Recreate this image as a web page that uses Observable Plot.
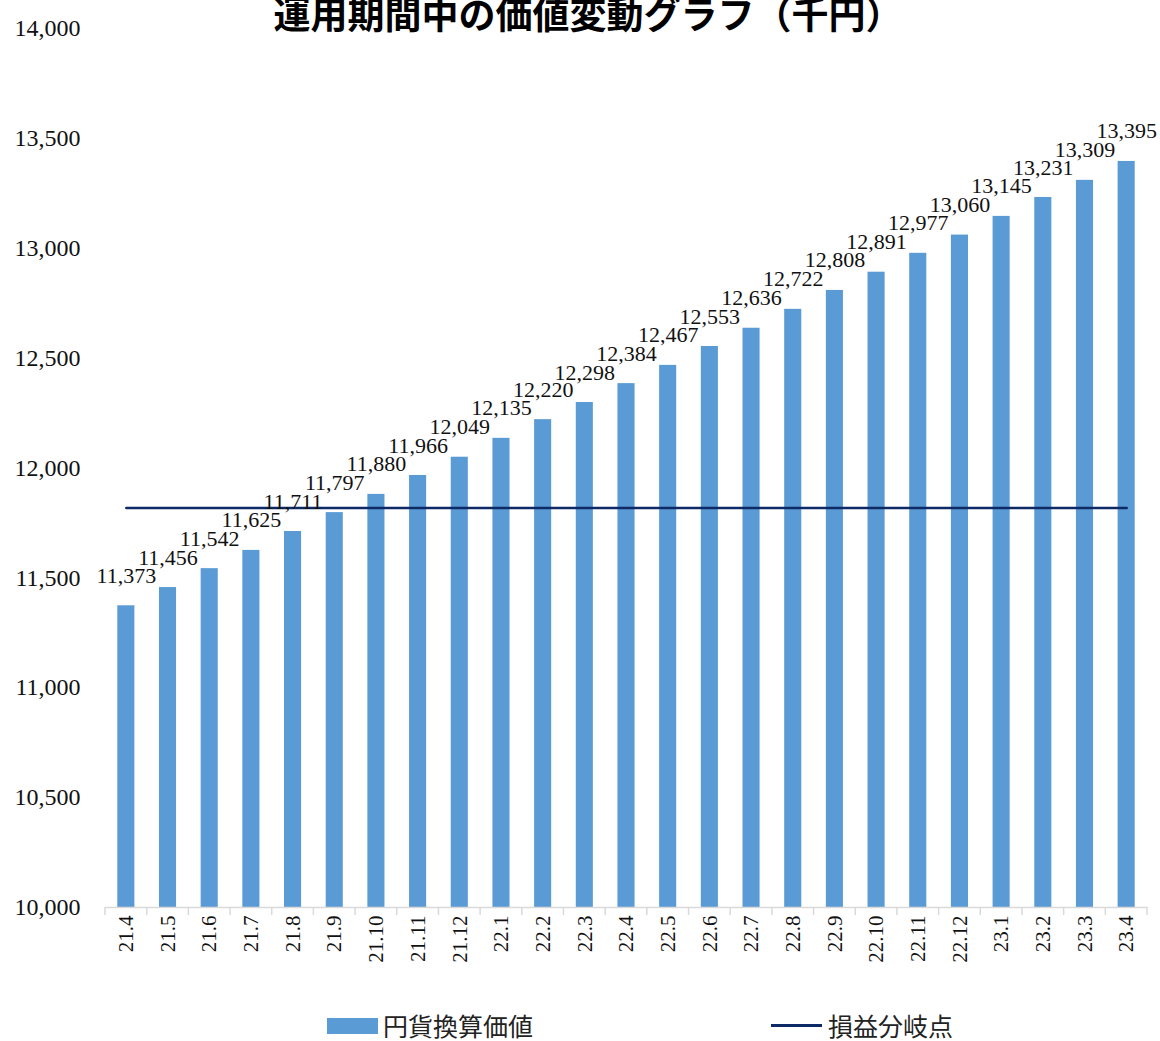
<!DOCTYPE html>
<html>
<head>
<meta charset="utf-8">
<script src="https://cdn.jsdelivr.net/npm/d3@7"></script>
<script src="https://cdn.jsdelivr.net/npm/@observablehq/plot@0.6"></script>
<style>
  html, body { margin: 0; padding: 0; background: #fff; }
  #wrap { position: relative; width: 1160px; height: 1041px; overflow: hidden; }
  #title { position: absolute; left: 8px; width: 1160px; top: -9px; text-align: center; line-height: 1.2;
    font-family: "Noto Sans CJK JP", sans-serif; font-size: 37px; font-weight: 700; color: #000; white-space: nowrap; }
  #legend { position: absolute; top: 1012px; left: 0; width: 1160px; height: 27px;
    font-family: "Noto Sans CJK JP", sans-serif; font-size: 25px; line-height: 1; color: #222; }
  .li { position: absolute; top: 0; display: flex; align-items: center; height: 27px; }
  .sw { width: 51px; height: 16px; background: #5b9bd5; margin-right: 5px; }
  .ln { width: 51px; height: 3px; background: #0e2a66; margin-right: 6px; }
</style>
</head>
<body>
<div id="wrap">
  <div id="chart"></div>
  <div id="title">運用期間中の価値変動グラフ（千円）</div>
  <div id="legend">
    <div class="li" style="left:327px"><div class="sw"></div><span>円貨換算価値</span></div>
    <div class="li" style="left:771px"><div class="ln"></div><span>損益分岐点</span></div>
  </div>
</div>
<script>
const categories = ["21.4","21.5","21.6","21.7","21.8","21.9","21.10","21.11","21.12",
  "22.1","22.2","22.3","22.4","22.5","22.6","22.7","22.8","22.9","22.10","22.11","22.12",
  "23.1","23.2","23.3","23.4"];
const values = [11373,11456,11542,11625,11711,11797,11880,11966,12049,12135,12220,12298,
  12384,12467,12553,12636,12722,12808,12891,12977,13060,13145,13231,13309,13395];
const breakEven = 11818;
const yTicks = [10000,10500,11000,11500,12000,12500,13000,13500,14000];

const data = categories.map((c, i) => ({cat: c, value: values[i], be: breakEven}));
const fmt = d3.format(",");

const plot = Plot.plot({
  width: 1160,
  height: 990,
  marginLeft: 105,
  marginRight: 13,
  marginTop: 28,
  marginBottom: 83,
  style: {fontFamily: "'Liberation Serif', serif", fontSize: "20px", color: "#111", background: "#fff"},
  x: {domain: categories, paddingInner: 0.59, paddingOuter: 0.295, align: 0.5, round: false, label: null},
  y: {domain: [10000, 14000], label: null},
  marks: [
    Plot.barY(data, {x: "cat", y1: 10000, y2: "value", fill: "#5b9bd5"}),
    Plot.ruleY([10000], {stroke: "#d9d9d9", strokeWidth: 1.5}),
    Plot.lineY(data, {x: "cat", y: "be", stroke: "#0e2a66", strokeWidth: 2.5}),
    Plot.text(data, {x: "cat", y: "value", text: d => fmt(d.value), dy: -30, fontSize: 22, fill: "#111"}),
    Plot.axisY({ticks: yTicks, tickFormat: fmt, tickSize: 0, tickPadding: 25, fontSize: 24}),
    Plot.axisX({tickSize: 0, tickRotate: -90, tickPadding: 8, fontSize: 21})
  ]
});

// category boundary tick marks on the x axis, positioned with the plot's own x scale
const xs = plot.scale("x");
const bw = xs.bandwidth, step = xs.step;
const svg = d3.select(plot);
const g = svg.append("g").attr("stroke", "#d9d9d9").attr("stroke-width", 1.5);
const bounds = categories.map(c => xs.apply(c) - (step - bw) / 2);
bounds.push(xs.apply(categories[categories.length - 1]) + bw + (step - bw) / 2);
const ys = plot.scale("y");
const y0 = ys.apply(10000);
bounds.forEach(x => g.append("line").attr("x1", x).attr("x2", x).attr("y1", y0).attr("y2", y0 + 8));

document.getElementById("chart").appendChild(plot);
</script>
</body>
</html>
